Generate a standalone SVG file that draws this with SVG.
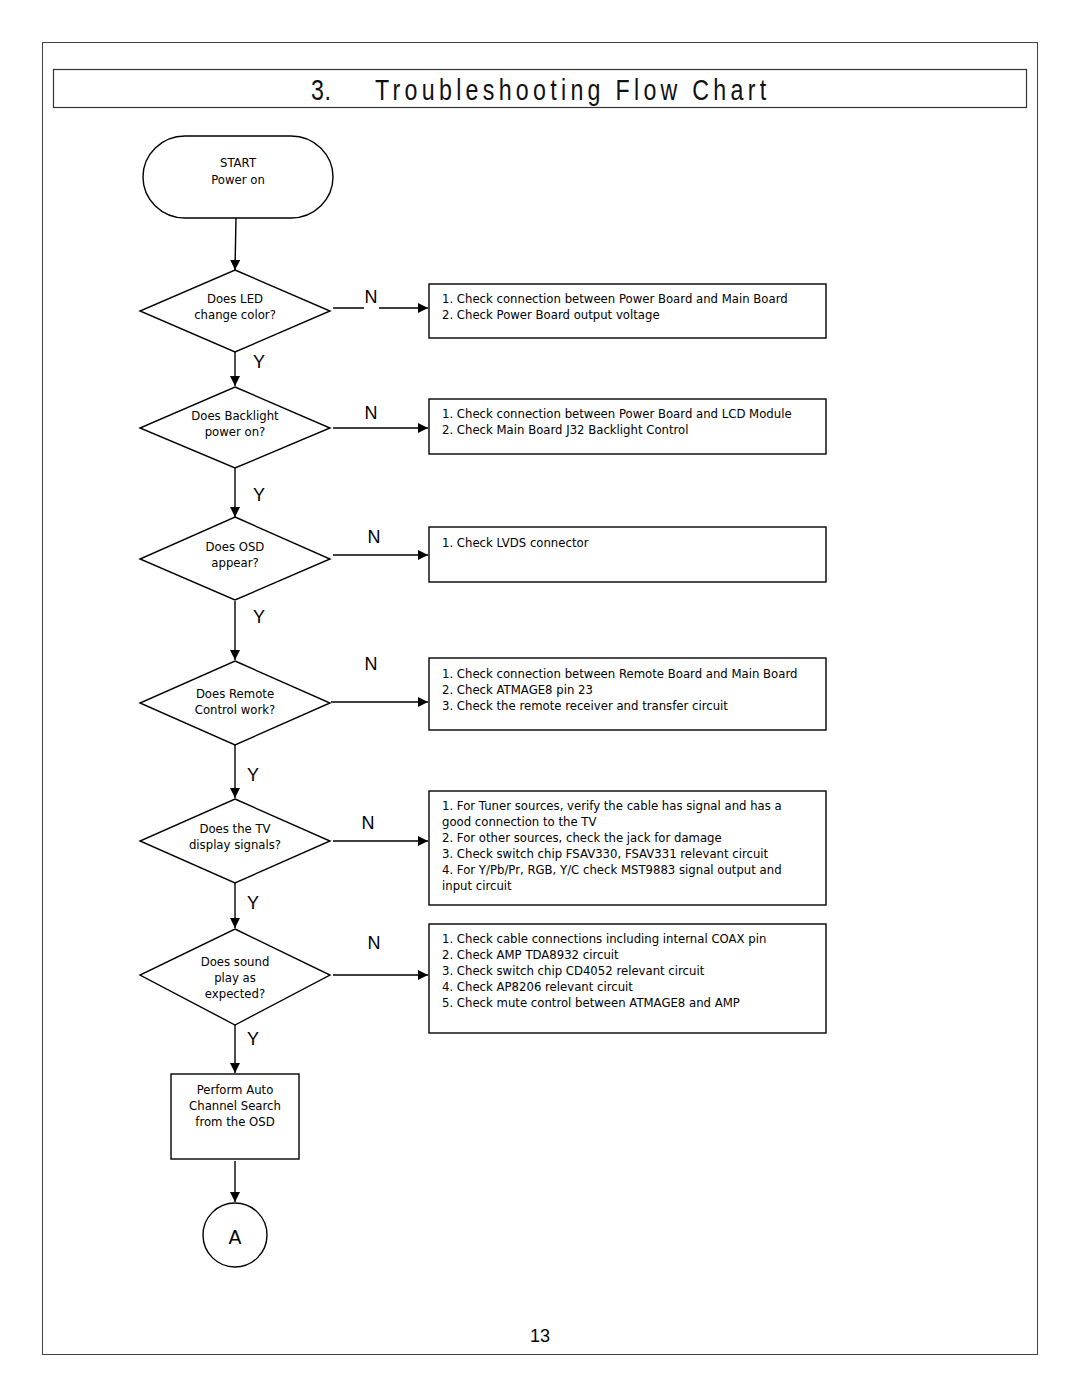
<svg xmlns="http://www.w3.org/2000/svg" width="1080" height="1397" viewBox="0 0 1080 1397">
<style>
.sh{fill:#fff;stroke:#000;stroke-width:1.4}
.t{font-family:"DejaVu Sans",Verdana,sans-serif;font-size:11.7px;fill:#000}
.c{text-anchor:middle}
.lb{font-family:"Liberation Sans",Arial,sans-serif;font-size:18px;fill:#000}
.ln{stroke:#000;stroke-width:1.4;fill:none}
.tt{font-family:"Liberation Sans",Arial,sans-serif;font-size:29px;fill:#111}
</style>
<defs>
<marker id="ah" viewBox="0 0 10 10" refX="10" refY="5" markerWidth="10" markerHeight="10" markerUnits="userSpaceOnUse" orient="auto">
<path d="M0,0 L10,5 L0,10 Z" fill="#000"/>
</marker>
</defs>
<rect width="1080" height="1397" fill="#fff"/>
<rect x="42.5" y="42.5" width="995" height="1312" fill="none" stroke="#444" stroke-width="1"/>
<g id="title">
<rect x="53.5" y="69.5" width="973" height="38" fill="none" stroke="#333" stroke-width="1.2"/>
<text class="tt" transform="translate(311,100) scale(0.8,1)" textLength="25" lengthAdjust="spacing">3.</text>
<text class="tt" transform="translate(375,100) scale(0.8,1)" textLength="489" lengthAdjust="spacing">Troubleshooting Flow Chart</text>
</g>
<g id="connectors">
<path class="ln" d="M236,218 L235,270" marker-end="url(#ah)"/>
<path class="ln" d="M333,308 L364,308 M379,308 L428,308" marker-end="url(#ah)"/>
<path class="ln" d="M235,352 L235,386" marker-end="url(#ah)"/>
<path class="ln" d="M333,428 L428,428" marker-end="url(#ah)"/>
<path class="ln" d="M235,468 L235,517" marker-end="url(#ah)"/>
<path class="ln" d="M333,555 L428,555" marker-end="url(#ah)"/>
<path class="ln" d="M235,601 L235,660" marker-end="url(#ah)"/>
<path class="ln" d="M331,702 L428,702" marker-end="url(#ah)"/>
<path class="ln" d="M235,745 L235,798" marker-end="url(#ah)"/>
<path class="ln" d="M333,841 L428,841" marker-end="url(#ah)"/>
<path class="ln" d="M235,883 L235,928" marker-end="url(#ah)"/>
<path class="ln" d="M333,975 L428,975" marker-end="url(#ah)"/>
<path class="ln" d="M235,1025 L235,1073" marker-end="url(#ah)"/>
<path class="ln" d="M235,1161 L235,1202" marker-end="url(#ah)"/>
<text class="lb" x="371" y="303" text-anchor="middle">N</text>
<text class="lb" x="259" y="368" text-anchor="middle">Y</text>
<text class="lb" x="371" y="419" text-anchor="middle">N</text>
<text class="lb" x="259" y="501" text-anchor="middle">Y</text>
<text class="lb" x="374" y="543" text-anchor="middle">N</text>
<text class="lb" x="259" y="623" text-anchor="middle">Y</text>
<text class="lb" x="371" y="670" text-anchor="middle">N</text>
<text class="lb" x="253" y="781" text-anchor="middle">Y</text>
<text class="lb" x="368" y="829" text-anchor="middle">N</text>
<text class="lb" x="253" y="909" text-anchor="middle">Y</text>
<text class="lb" x="374" y="949" text-anchor="middle">N</text>
<text class="lb" x="253" y="1045" text-anchor="middle">Y</text>
</g>
<g id="start">
<rect class="sh" x="143" y="136" width="190" height="82" rx="42" ry="41"/>
<text class="t c" x="238" y="167">START</text>
<text class="t c" x="238" y="184">Power on</text>
</g>
<g id="d1">
<polygon class="sh" points="235,270 330,311 235,352 140,311"/>
<text class="t c" x="235" y="303">Does LED</text>
<text class="t c" x="235" y="319">change color?</text>
</g>
<g id="b1">
<rect class="sh" x="429" y="284" width="397" height="54"/>
<text class="t" x="442" y="303">1. Check connection between Power Board and Main Board</text>
<text class="t" x="442" y="319">2. Check Power Board output voltage</text>
</g>
<g id="d2">
<polygon class="sh" points="235,387 330,428 235,468 140,428"/>
<text class="t c" x="235" y="420">Does Backlight</text>
<text class="t c" x="235" y="436">power on?</text>
</g>
<g id="b2">
<rect class="sh" x="429" y="399" width="397" height="55"/>
<text class="t" x="442" y="418">1. Check connection between Power Board and LCD Module</text>
<text class="t" x="442" y="434">2. Check Main Board J32 Backlight Control</text>
</g>
<g id="d3">
<polygon class="sh" points="235,517 330,559 235,600 140,559"/>
<text class="t c" x="235" y="551">Does OSD</text>
<text class="t c" x="235" y="567">appear?</text>
</g>
<g id="b3">
<rect class="sh" x="429" y="527" width="397" height="55"/>
<text class="t" x="442" y="547">1. Check LVDS connector</text>
</g>
<g id="d4">
<polygon class="sh" points="235,661 330,703 235,745 140,703"/>
<text class="t c" x="235" y="698">Does Remote</text>
<text class="t c" x="235" y="714">Control work?</text>
</g>
<g id="b4">
<rect class="sh" x="429" y="658" width="397" height="72"/>
<text class="t" x="442" y="678">1. Check connection between Remote Board and Main Board</text>
<text class="t" x="442" y="694">2. Check ATMAGE8 pin 23</text>
<text class="t" x="442" y="710">3. Check the remote receiver and transfer circuit</text>
</g>
<g id="d5">
<polygon class="sh" points="235,799 330,841 235,883 140,841"/>
<text class="t c" x="235" y="833">Does the TV</text>
<text class="t c" x="235" y="849">display signals?</text>
</g>
<g id="b5">
<rect class="sh" x="429" y="791" width="397" height="114"/>
<text class="t" x="442" y="810">1. For Tuner sources, verify the cable has signal and has a</text>
<text class="t" x="442" y="826">good connection to the TV</text>
<text class="t" x="442" y="842">2. For other sources, check the jack for damage</text>
<text class="t" x="442" y="858">3. Check switch chip FSAV330, FSAV331 relevant circuit</text>
<text class="t" x="442" y="874">4. For Y/Pb/Pr, RGB, Y/C check MST9883 signal output and</text>
<text class="t" x="442" y="890">input circuit</text>
</g>
<g id="d6">
<polygon class="sh" points="235,929 330,975 235,1025 140,975"/>
<text class="t c" x="235" y="966">Does sound</text>
<text class="t c" x="235" y="982">play as</text>
<text class="t c" x="235" y="998">expected?</text>
</g>
<g id="b6">
<rect class="sh" x="429" y="924" width="397" height="109"/>
<text class="t" x="442" y="943">1. Check cable connections including internal COAX pin</text>
<text class="t" x="442" y="959">2. Check AMP TDA8932 circuit</text>
<text class="t" x="442" y="975">3. Check switch chip CD4052 relevant circuit</text>
<text class="t" x="442" y="991">4. Check AP8206 relevant circuit</text>
<text class="t" x="442" y="1007">5. Check mute control between ATMAGE8 and AMP</text>
</g>
<g id="auto">
<rect class="sh" x="171" y="1074" width="128" height="85"/>
<text class="t c" x="235" y="1094">Perform Auto</text>
<text class="t c" x="235" y="1110">Channel Search</text>
<text class="t c" x="235" y="1126">from the OSD</text>
</g>
<g id="a">
<circle class="sh" cx="235" cy="1235" r="32"/>
<text x="235" y="1238" text-anchor="middle" dominant-baseline="middle" font-family="DejaVu Sans, sans-serif" font-size="19">A</text>
</g>
<text x="540" y="1342" text-anchor="middle" font-family="Liberation Sans, Arial, sans-serif" font-size="18">13</text>
</svg>
